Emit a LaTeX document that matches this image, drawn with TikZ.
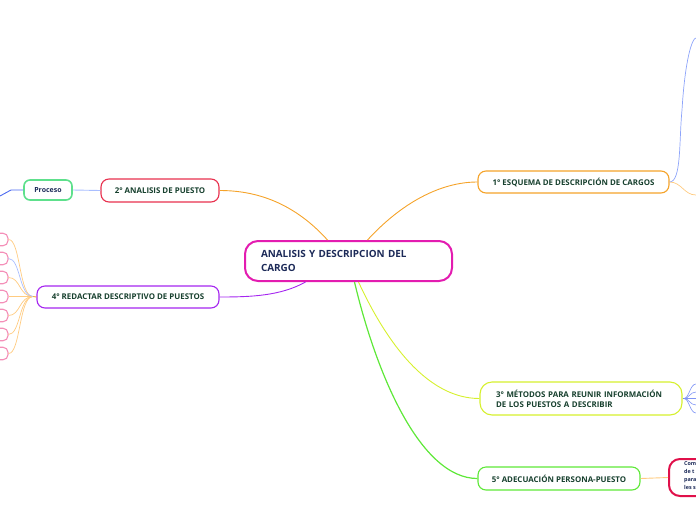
\documentclass[tikz,border=0pt]{standalone}
\usepackage{fontspec}
\setmainfont{Open Sans}
\usetikzlibrary{positioning}

\definecolor{magenta}{HTML}{E31CB0}
\definecolor{naranja}{HTML}{F5A32A}
\definecolor{naranjaclaro}{HTML}{FFCB80}
\definecolor{rojo}{HTML}{E8304E}
\definecolor{verdeclaro}{HTML}{5EE08C}
\definecolor{morado}{HTML}{A526F0}
\definecolor{amarillo}{HTML}{D6F02E}
\definecolor{verde}{HTML}{5EE838}
\definecolor{carmesi}{HTML}{E0104A}
\definecolor{rosa}{HTML}{F48FB8}
\definecolor{azul}{HTML}{4A68F0}
\definecolor{azulclaro}{HTML}{A9BEFF}
\definecolor{textoverde}{HTML}{17402E}
\definecolor{textoazul}{HTML}{1C2A58}

\begin{document}
\begin{tikzpicture}[
    x=1pt, y=-1pt,
    rama/.style={draw, line width=1.1pt, rounded corners=8pt, fill=white, inner sep=0pt,
        text=textoverde, font=\fontsize{7.9}{10}\selectfont\bfseries},
    linea/.style={line width=0.9pt}
]

% Marco de la imagen
\useasboundingbox (0,0) rectangle (696,520);
\clip (0,0) rectangle (696,520);

% 1. Nodo central
\node[draw=magenta, line width=2pt, rounded corners=13pt, fill=white, minimum width=207pt,
    minimum height=40pt, inner sep=0pt, text width=175pt, align=left, text=textoazul,
    font=\fontsize{9.9}{14}\selectfont\bfseries] (cargo) at (348.5,261)
    {ANALISIS Y DESCRIPCION DEL\\CARGO};

% 2. Ramas principales
\node[rama, draw=rojo, minimum width=118pt, minimum height=23pt] (analisis) at (160,190.5)
    {2° ANALISIS DE PUESTO};
\node[rama, draw=morado, minimum width=182pt, minimum height=22pt] (redactar) at (128,297)
    {4° REDACTAR DESCRIPTIVO DE PUESTOS};
\node[rama, draw=naranja, minimum width=191pt, minimum height=22pt] (esquema) at (573.5,182)
    {1° ESQUEMA DE DESCRIPCIÓN DE CARGOS};
\node[rama, draw=amarillo, minimum width=202pt, minimum height=33pt, rounded corners=12pt,
    text width=170pt, align=left] (metodos) at (581,398.5)
    {3° MÉTODOS PARA REUNIR INFORMACIÓN\\DE LOS PUESTOS A DESCRIBIR};
\node[rama, draw=verde, minimum width=162pt, minimum height=23pt] (adecuacion) at (559,478.5)
    {5° ADECUACIÓN PERSONA-PUESTO};

% 3. Subtemas
\node[rama, draw=verdeclaro, line width=1.6pt, rounded corners=6pt, minimum width=48pt,
    minimum height=20pt, text=textoazul, font=\fontsize{7}{8}\selectfont\bfseries]
    (proceso) at (48,190) {Proceso};
\node[draw=carmesi, line width=2pt, rounded corners=11pt, fill=white, minimum width=80pt,
    minimum height=37pt] (comp) at (709,477.5) {};
\node[anchor=north west, inner sep=0pt, align=left, text=textoazul,
    font=\fontsize{5.4}{8.2}\selectfont\bfseries] (comptexto) at (684,461)
    {Com\\de t\\para\\les s};
\foreach \i/\y in {1/239.5,2/258.5,3/277.5,4/296.5,5/315.5,6/334.5,7/353.5}
    \node[draw=rosa, line width=1.1pt, rounded corners=5pt, fill=white, minimum width=40pt,
        minimum height=12.5pt, inner sep=0pt] (p\i) at (-12,\y) {};

% 4. Conectores del nodo central
\draw[linea, naranja] ([xshift=-21pt]cargo.north) .. controls +(-37,-41) and +(31,0) .. (analisis.east);
\draw[linea, naranja] ([xshift=19pt]cargo.north) .. controls +(33,-36) and +(-38,0) .. (esquema.west);
\draw[linea, morado] ([xshift=-43pt]cargo.south) .. controls +(-25,14) and +(31,0) .. (redactar.east);
\draw[linea, amarillo] ([xshift=10pt]cargo.south) .. controls +(32,69) and +(-48,0) .. (metodos.west);
\draw[linea, verde, line width=1.2pt] ([xshift=6pt]cargo.south) .. controls +(21,89) and +(-58,0) .. (adecuacion.west);

% 5. Conectores de las ramas
\draw[linea, azulclaro] (analisis.west) -- (proceso.east);
\coordinate (bordeP) at (0,196);
\draw[linea, azul] (proceso.west) -- (11,190) -- (bordeP);

\coordinate (nudo) at (33,296.5);
\draw[linea, naranja] (redactar.west) -- (nudo);
\foreach \i in {1,3,4,5,6,7}
    \draw[line width=0.7pt, naranjaclaro] (nudo) .. controls +(-14,0) and +(12,0) .. (p\i.east);
\draw[line width=0.7pt, azulclaro] (nudo) .. controls +(-14,0) and +(12,0) .. (p2.east);

\coordinate (bordeA) at (696,38);
\coordinate (bordeB) at (696,195);
\draw[line width=0.7pt, azulclaro!70!azul] (esquema.east) .. controls +(12,0) and +(-3,30) .. (682,110)
    .. controls +(3,-50) and +(-4,0) .. (bordeA);
\draw[line width=0.7pt, naranjaclaro] (esquema.east) .. controls +(12,0) and +(-12,0) .. (bordeB);

\coordinate (nudoM) at (684,398.5);
\draw[linea, azul!80] (metodos.east) -- (nudoM);
\foreach \y in {384,392,398.5,405,413}
    \draw[line width=0.6pt, azul!70] (nudoM) .. controls +(5,0) and +(-6,0) .. (696,\y);

\draw[linea, naranjaclaro] (adecuacion.east) -- (comp.west);

\end{tikzpicture}
\end{document}
